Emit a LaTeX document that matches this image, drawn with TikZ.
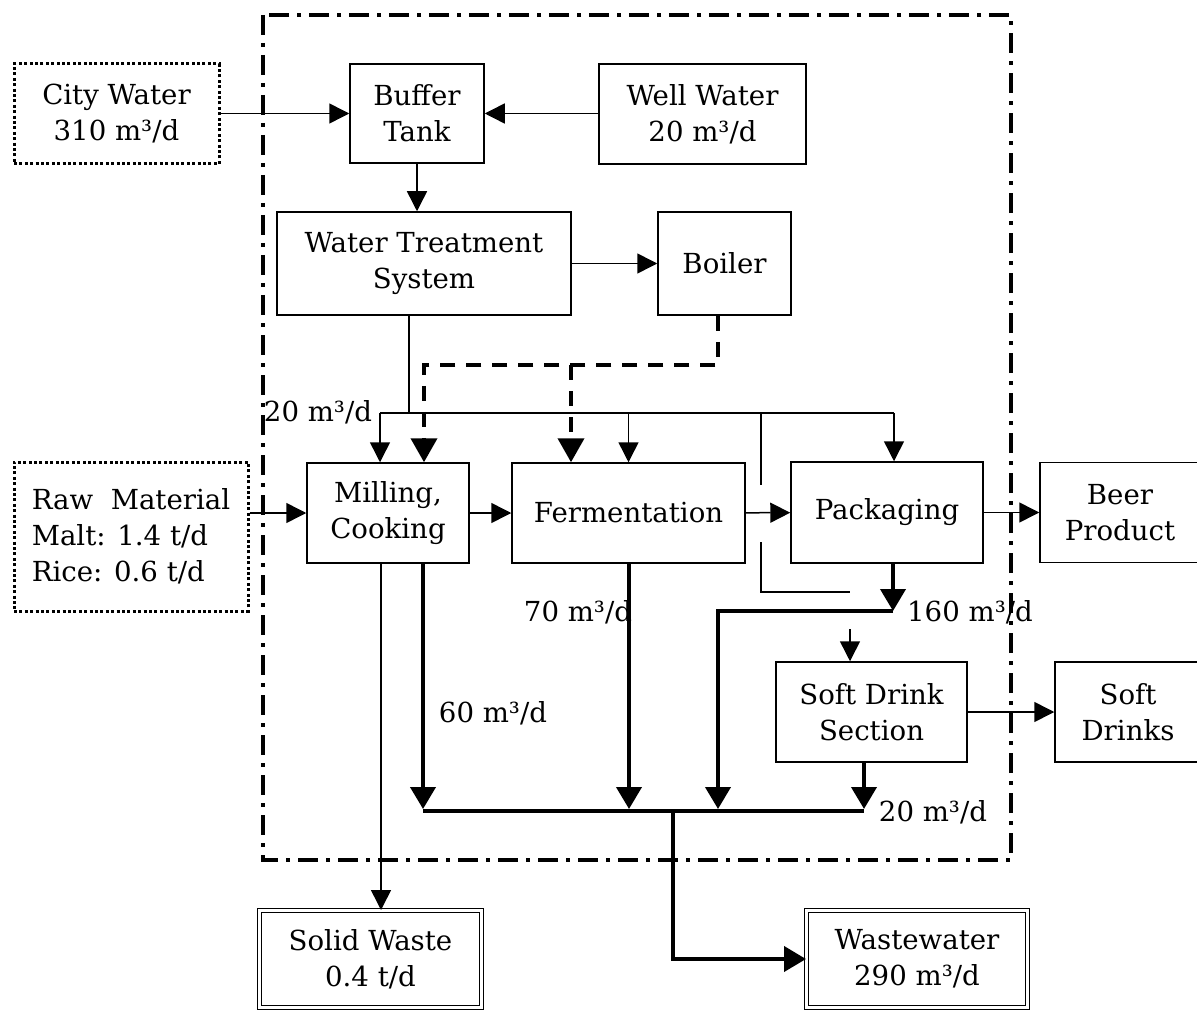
\documentclass[tikz,border=0pt]{standalone}
\usepackage{fontspec}
\setmainfont{DejaVu Serif}
\usetikzlibrary{arrows.meta}

\begin{document}
\begin{tikzpicture}[x=0.5pt,y=-0.5pt]
\tikzset{
  procbox/.style={rectangle,draw=black,line width=0.75pt,align=center,inner sep=1pt,font=\fontsize{13.8}{18}\selectfont},
  sourcebox/.style={procbox,line width=1.5pt,dash pattern=on 1.5pt off 1.2pt},
  sinkbox/.style={procbox,line width=0.5pt,double=white,double distance=1.8pt},
  flowlabel/.style={inner sep=0pt,font=\fontsize{13.8}{18}\selectfont},
  thinline/.style={draw=black,line width=0.75pt},
  thinflow/.style={thinline,-{Triangle[length=10pt,width=10pt]}},
  thickline/.style={draw=black,line width=2pt},
  thickflow/.style={thickline,-{Triangle[length=11pt,width=12.5pt]}},
  steamline/.style={draw=black,line width=2pt,dash pattern=on 7.5pt off 5.5pt},
  steamflow/.style={steamline,-{Triangle[length=12pt,width=13pt]}},
  boundary/.style={draw=black,line width=2pt,dash pattern=on 10pt off 4pt on 2pt off 4pt}
}
\useasboundingbox (0,0) rectangle (1197,1010);
\draw[boundary] (263,15) rectangle (1011,860);
% sources and sinks
\node[sourcebox,minimum width=102.5pt,minimum height=50pt] (n_city) at (116.5,114) {City Water\\310 m³/d};
\node[sourcebox,minimum width=117pt,minimum height=74.5pt,align=left] (n_raw) at (131,536.5) {Raw\ \ Material\\Malt: 1.4 t/d\\Rice: 0.6 t/d};
\node[procbox,minimum width=103.5pt,minimum height=50pt] (n_well) at (702.5,114) {Well Water\\20 m³/d};
\node[procbox,minimum width=80pt,minimum height=50pt] (n_beer) at (1120,512.5) {Beer\\Product};
\node[procbox,minimum width=73pt,minimum height=50pt] (n_drinks) at (1128,712) {Soft\\Drinks};
\node[sinkbox,minimum width=111pt,minimum height=48.5pt] (n_solid) at (370.5,959) {Solid Waste\\0.4 t/d};
\node[sinkbox,minimum width=110.5pt,minimum height=48.5pt] (n_waste) at (917,959) {Wastewater\\290 m³/d};
% plant units
\node[procbox,minimum width=67pt,minimum height=49.5pt] (n_buffer) at (417,113.5) {Buffer\\Tank};
\node[procbox,minimum width=147pt,minimum height=51.5pt] (n_wts) at (424,263.5) {Water Treatment\\System};
\node[procbox,minimum width=66.5pt,minimum height=51.5pt] (n_boiler) at (724.5,263.5) {Boiler};
\node[procbox,minimum width=81pt,minimum height=50pt] (n_mill) at (388,513) {Milling,\\Cooking};
\node[procbox,minimum width=116.5pt,minimum height=50pt] (n_ferm) at (628.5,513) {Fermentation};
\node[procbox,minimum width=96pt,minimum height=50.5pt] (n_pack) at (887,512.5) {Packaging};
\node[procbox,minimum width=95.5pt,minimum height=50pt] (n_soft) at (871.5,712) {Soft Drink\\Section};
% flow labels
\node[flowlabel] (l_top) at (318,412) {20 m³/d};
\node[flowlabel] (l_ferm) at (578,612) {70 m³/d};
\node[flowlabel] (l_mill) at (493,713) {60 m³/d};
\node[flowlabel] (l_pack) at (970,612) {160 m³/d};
\node[flowlabel] (l_soft) at (933,812) {20 m³/d};
% junction points
\coordinate (c_split) at (409,413);
\coordinate (c_left) at (380,413);
\coordinate (c_right) at (894,413);
\coordinate (d_boiler) at (718,365);
\coordinate (d_mill) at (424,365);
\coordinate (d_ferm) at (571,365);
\coordinate (s_mill) at (381,563);
\coordinate (b_mill) at (423,811);
\coordinate (b_ferm) at (629,811);
\coordinate (b_pack) at (718,811);
\coordinate (b_soft) at (864,811);
\coordinate (b_out) at (673,811);
\coordinate (p_drop) at (893,611);
\coordinate (p_soft) at (850,629);
% water supply
\draw[thinflow] (n_city.east |- n_buffer) -- (n_buffer.west);
\draw[thinflow] (n_well.west |- n_buffer) -- (n_buffer.east);
\draw[thinflow] (n_buffer.south) -- (n_buffer.south |- n_wts.north);
\draw[thinflow] (n_wts.east |- n_boiler) -- (n_boiler.west);
\draw[thinline] (c_split |- n_wts.south) -- (c_split);
\draw[thinline] (c_left) -- (c_right);
\draw[thinflow] (c_left) -- (c_left |- n_mill.north);
\draw[thinflow] (n_ferm.north |- c_split) -- (n_ferm.north);
\draw[thinflow] (c_right) -- (c_right |- n_pack.north);
\draw[thinline] (761,413) -- (761,485);
\draw[thinline] (761,542) -- (761,592) -- (850,592);
% steam
\draw[steamflow] (d_boiler |- n_boiler.south) -- (d_boiler) -- (d_mill) -- (d_mill |- n_mill.north);
\draw[steamflow] (d_ferm) -- (d_ferm |- n_ferm.north);
% main process
\draw[thinflow] (n_raw.east |- n_mill) -- (n_mill.west);
\draw[thinflow] (n_mill) -- (n_ferm);
\draw[thinflow] (n_ferm) -- (n_pack);
\draw[thinflow] (n_pack.east) -- (n_beer.west |- n_pack);
\draw[thinflow] (p_soft) -- (p_soft |- n_soft.north);
\draw[thinflow] (n_soft.east) -- (n_drinks.west |- n_soft);
\draw[thinflow] (s_mill) -- (s_mill |- n_solid.north);
% wastewater
\draw[thickflow] (b_mill |- n_mill.south) -- ([yshift=1pt]b_mill);
\draw[thickflow] (b_ferm |- n_ferm.south) -- ([yshift=1pt]b_ferm);
\draw[thickflow] (p_drop |- n_pack.south) -- (p_drop);
\draw[thickflow] (p_drop) -- (b_pack |- p_drop) -- ([yshift=1pt]b_pack);
\draw[thickflow] (b_soft |- n_soft.south) -- ([yshift=1pt]b_soft);
\draw[thickline] (b_mill) -- (b_soft);
\draw[thickflow] (b_out) -- (b_out |- n_waste.west) -- (n_waste.west);
\end{tikzpicture}
\end{document}
